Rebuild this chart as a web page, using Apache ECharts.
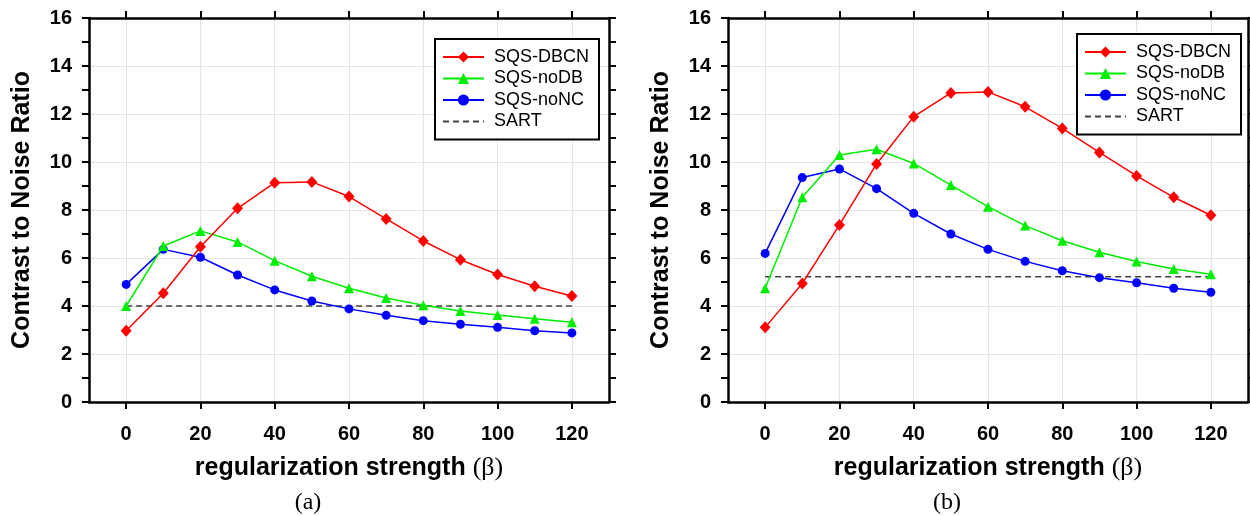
<!DOCTYPE html>
<html>
<head>
<meta charset="utf-8">
<script src="https://cdn.jsdelivr.net/npm/echarts@6/dist/echarts.min.js"></script>
<style>
html,body{margin:0;padding:0;background:#ffffff;}
#chart{width:1250px;height:516px;}
</style>
</head>
<body>
<div id="chart"></div>
<script>
// ---------- data ----------
const betas = [0, 10, 20, 30, 40, 50, 60, 70, 80, 90, 100, 110, 120];
const xTickValues = [0, 20, 40, 60, 80, 100, 120];
const seriesNames = ['SQS-DBCN', 'SQS-noDB', 'SQS-noNC', 'SART'];
const panelCaptions = ['(a)', '(b)'];

// panel (a)
const dbcnA = [2.97, 4.53, 6.47, 8.07, 9.14, 9.17, 8.56, 7.63, 6.71, 5.93, 5.31, 4.82, 4.42];
const nodbA = [4.00, 6.50, 7.13, 6.67, 5.89, 5.24, 4.74, 4.33, 4.03, 3.79, 3.62, 3.47, 3.32];
const noncA = [4.90, 6.36, 6.03, 5.29, 4.67, 4.21, 3.88, 3.61, 3.39, 3.24, 3.11, 2.97, 2.88];
const sartA = 4.0;

// panel (b)
const dbcnB = [3.11, 4.94, 7.38, 9.92, 11.89, 12.88, 12.92, 12.30, 11.40, 10.40, 9.42, 8.53, 7.78];
const nodbB = [4.74, 8.53, 10.29, 10.53, 9.94, 9.04, 8.14, 7.35, 6.72, 6.24, 5.85, 5.54, 5.32];
const noncB = [6.19, 9.35, 9.71, 8.89, 7.86, 7.00, 6.36, 5.86, 5.47, 5.18, 4.97, 4.74, 4.57];
const sartB = 5.22;

// ---------- chart ----------
const FONT = '"Liberation Sans", Arial, sans-serif';
const grids = [
  {left: 89, top: 18, width: 520, height: 384, outerBoundsMode: 'none'},
  {left: 728, top: 18, width: 520, height: 384, outerBoundsMode: 'none'}
];

function pairs(vals) { return betas.map((b, i) => [b, vals[i]]); }
function flat(v) { return [[betas[0], v], [betas[betas.length - 1], v]]; }

const xAxes = [], yAxes = [];
[0, 1].forEach(g => {
  // bottom axis
  xAxes.push({
    type: 'value', gridIndex: g, position: 'bottom', min: -10, max: 130,
    name: 'regularization strength {s|(β)}', nameLocation: 'middle', nameGap: 53,
    nameMoveOverlap: false,
    nameTextStyle: {fontFamily: FONT, fontWeight: 'bold', fontSize: 25, color: '#000',
      rich: {s: {fontFamily: '"Liberation Serif", "Times New Roman", serif', fontWeight: 'normal', fontSize: 26, color: '#000'}}},
    axisLine: {show: true, onZero: false, lineStyle: {color: '#000', width: 2.5}},
    axisTick: {show: true, inside: false, length: 7, customValues: xTickValues, lineStyle: {color: '#000', width: 2}},
    axisLabel: {show: true, customValues: xTickValues, margin: 22, fontFamily: FONT, fontWeight: 'bold', fontSize: 20, color: '#000'},
    splitLine: {show: true, lineStyle: {color: '#e4e4e4', width: 1}}
  });
  // top axis (frame)
  xAxes.push({
    type: 'value', gridIndex: g, position: 'top', min: -10, max: 130,
    axisLine: {show: true, onZero: false, lineStyle: {color: '#000', width: 2.5}},
    axisTick: {show: true, inside: false, length: 7, customValues: xTickValues, lineStyle: {color: '#000', width: 2}},
    axisLabel: {show: false},
    splitLine: {show: false}
  });
  // left axis
  yAxes.push({
    type: 'value', gridIndex: g, position: 'left', min: 0, max: 16, interval: 2,
    name: 'Contrast to Noise Ratio', nameLocation: 'middle', nameGap: 54, nameMoveOverlap: false,
    nameTextStyle: {fontFamily: FONT, fontWeight: 'bold', fontSize: 25, color: '#000'},
    axisLine: {show: true, onZero: false, lineStyle: {color: '#000', width: 2.5}},
    axisTick: {show: true, inside: false, length: 7, lineStyle: {color: '#000', width: 2}},
    minorTick: {show: true, splitNumber: 2, length: 7, lineStyle: {color: '#000', width: 2}},
    axisLabel: {show: true, margin: 17, fontFamily: FONT, fontWeight: 'bold', fontSize: 20, color: '#000'},
    splitLine: {show: true, lineStyle: {color: '#e4e4e4', width: 1}}
  });
  // right axis (frame)
  yAxes.push({
    type: 'value', gridIndex: g, position: 'right', min: 0, max: 16, interval: 2,
    axisLine: {show: true, onZero: false, lineStyle: {color: '#000', width: 2.5}},
    axisTick: {show: true, inside: false, length: 7, lineStyle: {color: '#000', width: 2}},
    minorTick: {show: true, splitNumber: 2, length: 7, lineStyle: {color: '#000', width: 2}},
    axisLabel: {show: false},
    splitLine: {show: false}
  });
});

const panelData = [
  {dbcn: dbcnA, nodb: nodbA, nonc: noncA, sart: sartA},
  {dbcn: dbcnB, nodb: nodbB, nonc: noncB, sart: sartB}
];

const series = [];
panelData.forEach((p, g) => {
  const xi = g * 2, yi = g * 2;
  series.push({
    name: seriesNames[3], type: 'line', xAxisIndex: xi, yAxisIndex: yi,
    data: flat(p.sart), symbol: 'none', silent: true, z: 2,
    lineStyle: {color: '#404040', width: 1.6, type: [6, 4]},
    itemStyle: {color: '#404040'}
  });
  series.push({
    name: seriesNames[2], type: 'line', xAxisIndex: xi, yAxisIndex: yi,
    data: pairs(p.nonc), symbol: 'circle', symbolSize: 9, z: 3,
    lineStyle: {color: '#0000ff', width: 1.5}, itemStyle: {color: '#0000ff'}
  });
  series.push({
    name: seriesNames[1], type: 'line', xAxisIndex: xi, yAxisIndex: yi,
    data: pairs(p.nodb), symbol: 'triangle', symbolSize: 10, z: 4,
    lineStyle: {color: '#00ee00', width: 1.5}, itemStyle: {color: '#00ee00'}
  });
  series.push({
    name: seriesNames[0], type: 'line', xAxisIndex: xi, yAxisIndex: yi,
    data: pairs(p.dbcn), symbol: 'diamond', symbolSize: [11, 12], z: 5,
    lineStyle: {color: '#ff0000', width: 1.5}, itemStyle: {color: '#ff0000'}
  });
});

function legendAt(left, top) {
  return {
    orient: 'vertical', left: left, top: top,
    padding: [9, 10, 9, 7], itemWidth: 41, itemHeight: 14, itemGap: 3.5,
    borderColor: '#000', borderWidth: 2, backgroundColor: '#fff',
    selectedMode: false,
    textStyle: {fontFamily: FONT, fontSize: 18, color: '#000', lineHeight: 18, padding: [0, 0, 0, 5]},
    data: [
      seriesNames[0], seriesNames[1], seriesNames[2],
      {name: seriesNames[3], itemStyle: {opacity: 0}}
    ]
  };
}

const option = {
  animation: false,
  backgroundColor: '#ffffff',
  grid: grids,
  xAxis: xAxes,
  yAxis: yAxes,
  legend: [legendAt(435, 39), legendAt(1077, 34)],
  series: series,
  graphic: [
    {type: 'text', x: 308, y: 503, style: {text: panelCaptions[0], font: '24px "Liberation Serif", "Times New Roman", serif', fill: '#000', align: 'center', verticalAlign: 'middle'}},
    {type: 'text', x: 947, y: 503, style: {text: panelCaptions[1], font: '24px "Liberation Serif", "Times New Roman", serif', fill: '#000', align: 'center', verticalAlign: 'middle'}}
  ]
};

const chart = echarts.init(document.getElementById('chart'), null, {renderer: 'canvas'});
chart.setOption(option);
</script>
</body>
</html>
